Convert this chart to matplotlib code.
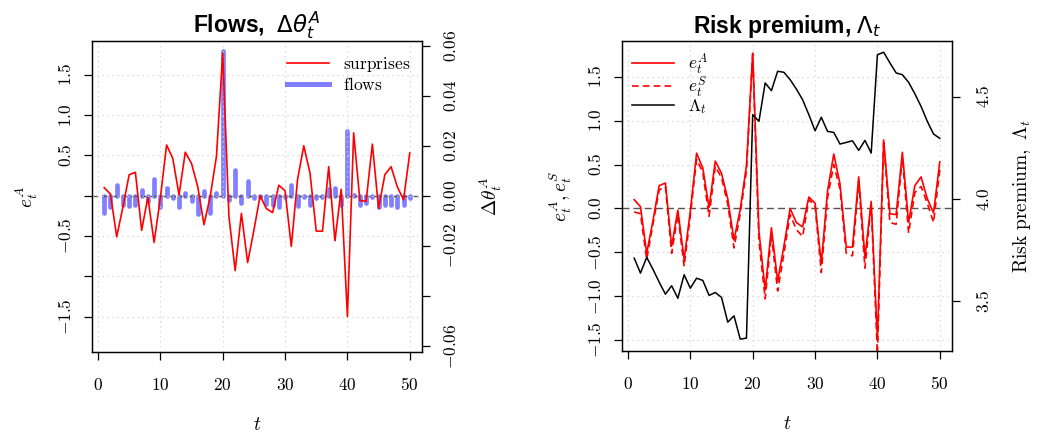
import numpy as np
import matplotlib
matplotlib.use("Agg")
import matplotlib.pyplot as plt
from matplotlib.lines import Line2D

plt.rcParams['mathtext.fontset'] = 'cm'
plt.rcParams['font.family'] = 'serif'
plt.rcParams['font.serif'] = ['DejaVu Serif']

# data
t = np.arange(1, 51)

surprises = [0.10, 0.02, -0.51, -0.14, 0.26, 0.29, -0.43, -0.02, -0.58, -0.03,
             0.63, 0.46, 0.01, 0.54, 0.40, 0.11, -0.36, -0.01, 0.49, 1.77,
             -0.26, -0.93, -0.22, -0.83, -0.43, 0.00, -0.16, -0.21, 0.13, 0.06,
             -0.63, 0.20, 0.62, 0.28, -0.44, -0.44, 0.36, -0.56, 0.08, -1.50,
             0.78, -0.06, -0.07, 0.64, -0.16, 0.26, 0.36, 0.11, -0.05, 0.53]

eS = [-0.04, -0.06, -0.58, -0.18, 0.21, 0.25, -0.51, -0.07, -0.66, -0.08,
      0.56, 0.41, -0.09, 0.48, 0.35, 0.05, -0.45, -0.06, 0.43, 1.76,
      -0.37, -1.03, -0.30, -0.94, -0.52, -0.07, -0.24, -0.32, 0.10, 0.03,
      -0.73, 0.12, 0.50, 0.22, -0.51, -0.54, 0.31, -0.68, 0.05, -1.66,
      0.75, -0.16, -0.18, 0.58, -0.28, 0.18, 0.25, 0.06, -0.16, 0.44]

flows = [-0.0068, -0.0044, 0.0043, -0.0037, -0.0039, -0.0037, 0.0025, -0.0020, 0.0068, -0.0044,
         0.0032, -0.0010, -0.0044, 0.0012, -0.0020, -0.0071, 0.0020, -0.0068, 0.0010, 0.0578,
         -0.0015, 0.0102, -0.0028, 0.0058, -0.0007, -0.0006, -0.0032, -0.0035, -0.0044, -0.0006,
         0.0043, -0.0041, -0.0006, -0.0035, -0.0008, -0.0005, 0.0028, 0.0031, -0.0035, 0.0259,
         0.0005, -0.0035, -0.0030, -0.0006, -0.0044, -0.0035, -0.0037, -0.0044, -0.0037, -0.0007]

Lam = [3.711, 3.638, 3.715, 3.657, 3.594, 3.535, 3.576, 3.515, 3.630, 3.564,
       3.613, 3.602, 3.529, 3.543, 3.519, 3.398, 3.429, 3.315, 3.320, 4.413,
       4.380, 4.568, 4.530, 4.625, 4.620, 4.584, 4.538, 4.486, 4.413, 4.334,
       4.400, 4.331, 4.326, 4.269, 4.277, 4.285, 4.238, 4.287, 4.225, 4.706,
       4.718, 4.666, 4.617, 4.608, 4.571, 4.515, 4.453, 4.380, 4.318, 4.297]

xticks = [0, 10, 20, 30, 40, 50]
e_ticks = [-1.5, -1.0, -0.5, 0.0, 0.5, 1.0, 1.5]
e_labels_left = ['-1.5', '', '-0.5', '', '0.5', '1.0', '1.5']
e_labels_right = ['-1.5', '-1.0', '-0.5', '0.0', '0.5', '1.0', '1.5']
th_ticks = [-0.06, -0.04, -0.02, 0.0, 0.02, 0.04, 0.06]
th_labels = ['-0.06', '', '-0.02', '0.00', '0.02', '0.04', '0.06']
lam_ticks = [3.5, 4.0, 4.5]
lam_labels = ['3.5', '4.0', '4.5']

red = '#ff0000'
blue = (0.0, 0.0, 1.0, 0.5)
tick_fs = 12.5


def m(s):
    return '$\\mathrm{' + s + '}$'


def style_axis(ax, ypad=6):
    for sp in ax.spines.values():
        sp.set_linewidth(0.9)
    ax.tick_params(axis='both', direction='out', length=6, width=0.9, labelsize=tick_fs)
    ax.tick_params(axis='x', pad=12)
    ax.tick_params(axis='y', labelrotation=90, pad=ypad)
    for lab in ax.get_yticklabels():
        lab.set_va('center')


fig = plt.figure(figsize=(10.38, 4.33), dpi=100)

# ---------------- left panel: flows ----------------
ax = fig.add_axes([92 / 1038, 81 / 433, 330 / 1038, 311 / 433])
ax2 = ax.twinx()
ax2.set_zorder(ax.get_zorder() - 1)
ax.patch.set_visible(False)

ax.set_xlim(-0.96, 51.96)
ax.set_ylim(-1.94, 1.92)
ax2.set_ylim(-0.0625, 0.0619)

ax.set_xticks(xticks)
ax.set_xticklabels([m(str(v)) for v in xticks])
ax.set_yticks(e_ticks)
ax.set_yticklabels([m(s) for s in e_labels_left])
ax2.set_yticks(th_ticks)
ax2.set_yticklabels([m(s) for s in th_labels])

for v in xticks:
    ax.axvline(v, color='lightgray', ls=(0, (1, 3)), lw=0.9, zorder=0)
for v in e_ticks:
    ax.axhline(v, color='lightgray', ls=(0, (1, 3)), lw=0.9, zorder=0)

ax2.vlines(t, 0, flows, color=blue, linewidth=3.4, capstyle='round')
ax2.axhline(0, color='#555555', ls=(0, (4, 3)), lw=1.0)
ax.plot(t, surprises, color=red, lw=1.2)

style_axis(ax)
style_axis(ax2, ypad=9)

ax.set_xlabel('$t$', fontsize=14, labelpad=16)
ax.set_ylabel('$e_t^A$', fontsize=14, labelpad=13)
ax2.set_ylabel('$\\Delta\\theta_t^A$', fontsize=14, labelpad=13)
ax.set_title('Flows,  $\\Delta\\theta_t^A$', fontsize=16.5, fontweight='bold',
             family='Liberation Sans', math_fontfamily='dejavusans', pad=6)

h1 = [Line2D([], [], color=red, lw=1.2), Line2D([], [], color=blue, lw=3.6)]
ax.legend(h1, [m('surprises'), m('flows')], loc='upper right', frameon=False,
          fontsize=12.5, handlelength=2.4, borderaxespad=0.3, labelspacing=0.2,
          bbox_to_anchor=(1.0, 0.995))

# ---------------- right panel: risk premium ----------------
bx = fig.add_axes([622 / 1038, 82 / 433, 330 / 1038, 310 / 433])
bx2 = bx.twinx()

bx.set_xlim(-0.96, 51.96)
bx.set_ylim(-1.624, 1.908)
bx2.set_ylim(3.257, 4.773)

bx.set_xticks(xticks)
bx.set_xticklabels([m(str(v)) for v in xticks])
bx.set_yticks(e_ticks)
bx.set_yticklabels([m(s) for s in e_labels_right])
bx2.set_yticks(lam_ticks)
bx2.set_yticklabels([m(s) for s in lam_labels])

for v in xticks:
    bx.axvline(v, color='lightgray', ls=(0, (1, 3)), lw=0.9, zorder=0)
for v in e_ticks:
    bx.axhline(v, color='lightgray', ls=(0, (1, 3)), lw=0.9, zorder=0)

bx.axhline(0, color='#555555', ls=(0, (5, 3)), lw=1.0)
bx.plot(t, surprises, color=red, lw=1.2)
bx.plot(t, eS, color=red, lw=1.2, ls=(0, (4, 2.5)))
bx2.plot(t, Lam, color='black', lw=1.1)

style_axis(bx)
style_axis(bx2, ypad=11)

bx.set_xlabel('$t$', fontsize=14, labelpad=16)
bx.set_ylabel('$e_t^A, e_t^S$', fontsize=14, labelpad=10)
bx2.set_ylabel('$\\mathrm{Risk\\ premium,}\\ \\Lambda_t$', fontsize=14, labelpad=13)
bx.set_title('Risk premium, $\\Lambda_t$', fontsize=16.5, fontweight='bold',
             family='Liberation Sans', math_fontfamily='dejavusans', pad=6)

h2 = [Line2D([], [], color=red, lw=1.2),
      Line2D([], [], color=red, lw=1.2, ls=(0, (4, 2.5))),
      Line2D([], [], color='black', lw=1.1)]
bx.legend(h2, ['$e_t^A$', '$e_t^S$', '$\\Lambda_t$'], loc='upper left', frameon=False,
          fontsize=12.5, handlelength=2.4, borderaxespad=0.2, labelspacing=-0.1,
          bbox_to_anchor=(0.0, 1.0))

fig.savefig('out.png', dpi=100)
